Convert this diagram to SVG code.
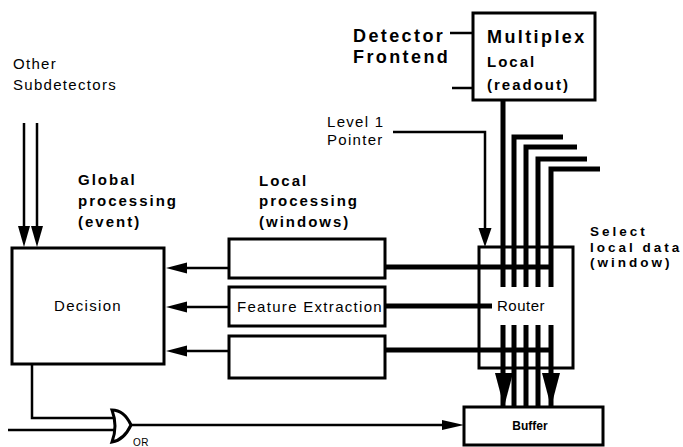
<svg xmlns="http://www.w3.org/2000/svg" width="683" height="447" viewBox="0 0 683 447">
<style>
  .reg { font-family: "Liberation Sans", Arial, sans-serif; font-size: 15px; letter-spacing: 1.3px; fill: #000; }
  .bold { font-family: "Liberation Sans", Arial, sans-serif; font-size: 15px; font-weight: bold; letter-spacing: 2px; fill: #000; }
  .sel { font-family: "Liberation Sans", Arial, sans-serif; font-size: 13.5px; font-weight: bold; letter-spacing: 3px; fill: #000; }
  .big { font-family: "Liberation Sans", Arial, sans-serif; font-size: 18px; font-weight: bold; letter-spacing: 2.4px; fill: #000; }
  .small { font-family: "Liberation Sans", Arial, sans-serif; font-size: 12px; font-weight: bold; fill: #000; }
  .box { fill: #fff; stroke: #000; stroke-width: 3; }
  .thin { fill: none; stroke: #000; stroke-width: 2.5; }
  .thick { fill: none; stroke: #000; stroke-width: 5; stroke-linejoin: miter; }
  .head { fill: #000; stroke: none; }
</style>
<rect width="683" height="447" fill="#fff"/>

<g id="connectors">
  <!-- Other subdetectors -->
  <path class="thin" d="M24,123 V228 M37,123 V228"/>
  <polygon class="head" points="18,226 30,226 24,247"/>
  <polygon class="head" points="31,226 43,226 37,247"/>
  <!-- Detector frontend lines -->
  <path class="thin" d="M450,33 H473 M452,88 H473"/>
  <!-- Level 1 pointer -->
  <path class="thin" d="M393,132 H485 V230"/>
  <polygon class="head" points="478.5,228 491.5,228 485,247"/>
  <!-- Horizontal local data lines -->
  <path class="thick" d="M385,267 H552 M385,306 H492 M385,350 H552"/>
  <!-- Multiplex readout lines -->
  <path class="thick" d="M503,100 V287 M503,325 V407"/>
  <path class="thick" d="M563,137 H514 V287 M514,325 V407"/>
  <path class="thick" d="M577,147 H526 V287 M526,325 V407"/>
  <path class="thick" d="M587,159 H538 V287 M538,325 V407"/>
  <path class="thick" d="M600,169 H551 V287 M551,325 V407"/>
  <polygon class="head" points="495,373 513,373 504,407"/>
  <polygon class="head" points="542,373 560,373 551,407"/>
  <!-- Into decision -->
  <path class="thin" d="M229,268 H186 M229,307 H186 M229,351 H186" stroke-width="3"/>
  <polygon class="head" points="187,262.5 187,273.5 166,268"/>
  <polygon class="head" points="187,301.5 187,312.5 166,307"/>
  <polygon class="head" points="187,345.5 187,356.5 166,351"/>
  <!-- Decision to OR -->
  <path class="thin" d="M32,364 V418 H115 M8,430 H115"/>
  <path class="thin" d="M130,425 H444" stroke-width="2"/>
  <polygon class="head" points="442,420 442,430 464,425"/>
</g>

<g id="or-gate">
  <path d="M112,410 Q124,410 131,425 Q124,440 112,442 Q118,426 112,410 Z" fill="#fff" stroke="#000" stroke-width="3"/>
  <text class="reg" x="133" y="446" style="font-size:10px;letter-spacing:0.5px">OR</text>
</g>

<g id="other-subdetectors">
  <text class="reg" x="13" y="69">Other</text>
  <text class="reg" x="13" y="90">Subdetectors</text>
</g>

<g id="detector-frontend">
  <text class="big" x="353" y="42">Detector</text>
  <text class="big" x="353" y="63">Frontend</text>
</g>

<g id="multiplex">
  <rect class="box" x="473" y="13" width="122" height="87"/>
  <text class="big" x="487" y="43">Multiplex</text>
  <text class="bold" x="487" y="67">Local</text>
  <text class="bold" x="487" y="90">(readout)</text>
</g>

<g id="level1">
  <text class="reg" x="327" y="127">Level 1</text>
  <text class="reg" x="327" y="145">Pointer</text>
</g>

<g id="global-label">
  <text class="bold" x="78" y="185">Global</text>
  <text class="bold" x="78" y="206">processing</text>
  <text class="bold" x="78" y="227">(event)</text>
</g>

<g id="local-label">
  <text class="bold" x="259" y="186">Local</text>
  <text class="bold" x="259" y="206">processing</text>
  <text class="bold" x="259" y="227">(windows)</text>
</g>

<g id="select-label">
  <text class="sel" x="590" y="236">Select</text>
  <text class="sel" x="590" y="252">local data</text>
  <text class="sel" x="590" y="267">(window)</text>
</g>

<g id="decision">
  <rect class="box" x="12" y="248" width="152" height="116" stroke-width="2.5"/>
  <text class="reg" x="88" y="311" text-anchor="middle">Decision</text>
</g>

<g id="local-box-1">
  <rect class="box" x="229" y="239" width="156" height="39"/>
</g>
<g id="feature-extraction">
  <rect class="box" x="229" y="287" width="156" height="39"/>
  <text class="reg" x="237" y="312">Feature Extraction</text>
</g>
<g id="local-box-3">
  <rect class="box" x="229" y="336" width="156" height="42"/>
</g>

<g id="router">
  <rect x="479" y="247" width="94" height="121" fill="none" stroke="#000" stroke-width="3"/>
  <text class="reg" x="497" y="311" style="letter-spacing:0.5px">Router</text>
</g>

<g id="buffer">
  <rect class="box" x="464" y="407" width="139" height="38"/>
  <text class="small" x="530" y="430" text-anchor="middle">Buffer</text>
</g>
</svg>
